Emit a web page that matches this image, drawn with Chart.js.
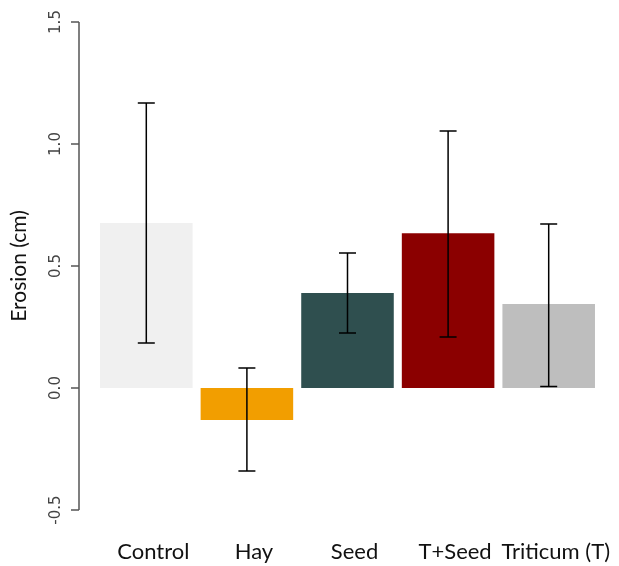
<!DOCTYPE html>
<html>
<head>
<meta charset="utf-8">
<script src="https://cdn.jsdelivr.net/npm/chart.js@4/dist/chart.umd.min.js"></script>
<style>
  html, body { margin: 0; padding: 0; background: #fff; }
  #wrap { width: 619px; height: 566px; }
</style>
</head>
<body>
<div id="wrap"><canvas id="chart"></canvas></div>
<script>
const categories = ['Control', 'Hay', 'Seed', 'T+Seed', 'Triticum (T)'];
const erosion = [0.676, -0.131, 0.389, 0.634, 0.344];
const errLow = [0.184, -0.340, 0.225, 0.209, 0.006];
const errHigh = [1.168, 0.082, 0.553, 1.053, 0.672];
const barColors = ['#f0f0f0', '#f29e00', '#2f4f4f', '#8b0000', '#bebebe'];
const yTicks = [-0.5, 0.0, 0.5, 1.0, 1.5];

// R-style axes drawn from the chart's own scales
const axesPlugin = {
  id: 'axesPlugin',
  afterDraw(chart) {
    const ctx = chart.ctx;
    const y = chart.scales.y;
    const x = chart.scales.x;
    const axisX = 79;
    ctx.save();
    ctx.strokeStyle = '#555';
    ctx.lineWidth = 1.5;
    ctx.beginPath();
    ctx.moveTo(axisX, y.getPixelForValue(yTicks[0]));
    ctx.lineTo(axisX, y.getPixelForValue(yTicks[yTicks.length - 1]));
    yTicks.forEach(v => {
      const py = y.getPixelForValue(v);
      ctx.moveTo(axisX, py);
      ctx.lineTo(axisX - 8, py);
    });
    ctx.stroke();

    ctx.fillStyle = '#444';
    ctx.font = '15px "DejaVu Sans"';
    ctx.textAlign = 'center';
    ctx.textBaseline = 'middle';
    yTicks.forEach(v => {
      const py = y.getPixelForValue(v);
      ctx.save();
      ctx.translate(56, py);
      ctx.rotate(-Math.PI / 2);
      ctx.fillText(v.toFixed(1), 0, 0);
      ctx.restore();
    });

    ctx.fillStyle = '#111';
    ctx.font = '21px Lato';
    ctx.save();
    ctx.translate(19, y.getPixelForValue(0.5));
    ctx.rotate(-Math.PI / 2);
    ctx.fillText('Erosion (cm)', 0, 0);
    ctx.restore();

    // category names sit a little right of the bar centres in the original
    ctx.font = '22px Lato';
    categories.forEach((c, i) => {
      ctx.fillText(c, x.getPixelForValue(i) + 7, 552);
    });
    ctx.restore();
  }
};

const errorBars = {
  id: 'errorBars',
  afterDatasetsDraw(chart) {
    const ctx = chart.ctx;
    const y = chart.scales.y;
    const meta = chart.getDatasetMeta(0);
    ctx.save();
    ctx.strokeStyle = '#000';
    ctx.lineWidth = 1.5;
    meta.data.forEach((bar, i) => {
      const x = bar.x;
      const top = y.getPixelForValue(errHigh[i]);
      const bot = y.getPixelForValue(errLow[i]);
      ctx.beginPath();
      ctx.moveTo(x, top);
      ctx.lineTo(x, bot);
      ctx.moveTo(x - 8.5, top);
      ctx.lineTo(x + 8.5, top);
      ctx.moveTo(x - 8.5, bot);
      ctx.lineTo(x + 8.5, bot);
      ctx.stroke();
    });
    ctx.restore();
  }
};

new Chart(document.getElementById('chart'), {
  type: 'bar',
  data: {
    labels: categories,
    datasets: [{
      data: erosion,
      backgroundColor: barColors,
      borderWidth: 0,
      barPercentage: 0.92,
      categoryPercentage: 1.0
    }]
  },
  options: {
    responsive: true,
    maintainAspectRatio: false,
    animation: false,
    layout: { padding: { left: 96, right: 20, top: 22, bottom: 56 } },
    plugins: { legend: { display: false }, tooltip: { enabled: false } },
    scales: {
      x: { display: false },
      y: { display: false, min: -0.5, max: 1.5 }
    }
  },
  plugins: [axesPlugin, errorBars]
});
</script>
</body>
</html>
